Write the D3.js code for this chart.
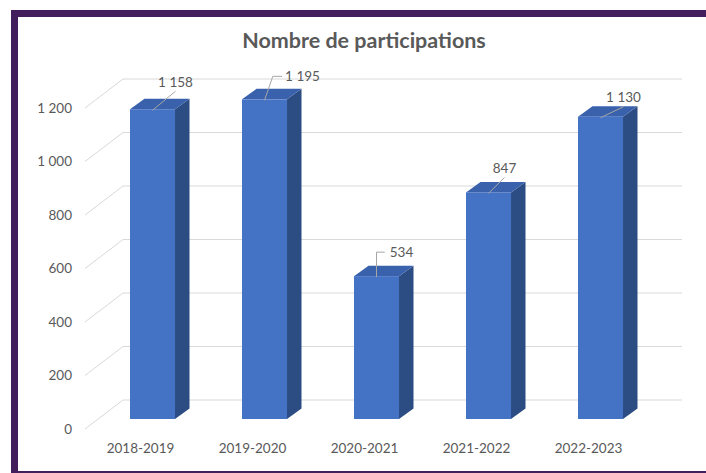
<!DOCTYPE html>
<html><head><meta charset="utf-8">
<script src="https://cdn.jsdelivr.net/npm/d3@7/dist/d3.min.js"></script>
<style>html,body{margin:0;padding:0;background:#fff;}svg{display:block;}</style>
</head><body><svg id="c" width="706" height="473"></svg>
<script>
const categories = ["2018-2019","2019-2020","2020-2021","2021-2022","2022-2023"];
const values = [1158, 1195, 534, 847, 1130];
const yTicks = [0, 200, 400, 600, 800, 1000, 1200];
const title = "Nombre de participations";

// label nudges (layout, not data): offset of label centre from bar top anchor
const labelNudge = [[23,-28],[38,-24],[25,-25],[16,-25],[23,-20]];

const svg = d3.select("#c");
const font = "Lato, 'Open Sans', sans-serif";
const txt = "#595959";
const fr = d3.formatLocale({decimal:",", thousands:"\u00a0", grouping:[3], currency:["","€"]});
const fmt = fr.format(",d");

// frame
svg.append("rect").attr("x",14.5).attr("y",13.5).attr("width",700).attr("height",461)
  .attr("fill","#fff").attr("stroke","#421E5C").attr("stroke-width",7);

// geometry
const wallDX = 38, wallDY = -29;   // front plane -> back wall
const barDX = 14.5, barDY = -10.5; // bar depth
const frontBase = 429, barBase = 419, backBase = 400;
const h = d3.scaleLinear().domain([0,1200]).range([0,321]);
const x = d3.scaleBand().domain(categories).range([96.5,656.5]).paddingInner(0.598).paddingOuter(0.299);
const wallLeft = 85 + wallDX, wallRight = 682;

// title
svg.append("text").attr("x",364).attr("y",48).attr("text-anchor","middle")
  .attr("font-family",font).attr("font-weight","bold").attr("font-size",21.5).attr("fill",txt).text(title);

// gridlines
const g = svg.append("g");
yTicks.forEach(v=>{
  const yb = backBase - h(v), yf = frontBase - h(v);
  g.append("polyline").attr("points",`${85},${yf} ${wallLeft},${yb} ${wallRight},${yb}`)
    .attr("fill","none").attr("stroke","#d9d9d9").attr("stroke-width",1);
  g.append("text").attr("x",72).attr("y",yf).attr("dy","0.35em").attr("text-anchor","end")
    .attr("font-family",font).attr("font-size",13.5).attr("fill",txt).text(fmt(v));
});

// bars
const bars = svg.append("g");
categories.forEach((c,i)=>{
  const x0 = x(c), w = x.bandwidth();
  const yt = barBase - h(values[i]), yb = barBase;
  bars.append("polygon").attr("points",`${x0+w},${yt} ${x0+w+barDX},${yt+barDY} ${x0+w+barDX},${yb+barDY} ${x0+w},${yb}`)
    .attr("fill","#2C4C84");
  bars.append("polygon").attr("points",`${x0},${yt} ${x0+w},${yt} ${x0+w+barDX},${yt+barDY} ${x0+barDX},${yt+barDY}`)
    .attr("fill","#3A62AC");
  bars.append("rect").attr("x",x0).attr("y",yt).attr("width",w).attr("height",yb-yt).attr("fill","#4472C4");

  // category label
  svg.append("text").attr("x",x0+w/2-12).attr("y",448).attr("dy","0.35em").attr("text-anchor","middle")
    .attr("font-family",font).attr("font-size",13.5).attr("fill",txt).text(c);

  // data label + leader
  const ax = x0+w/2, ay = yt+1;
  const lx = ax+labelNudge[i][0], ly = ay+labelNudge[i][1];
  const t = svg.append("text").attr("x",lx).attr("y",ly).attr("dy","0.35em").attr("text-anchor","middle")
    .attr("font-family",font).attr("font-size",13.5).attr("fill",txt).text(fmt(values[i]));
  const bb = t.node().getBBox();
  let pts;
  if (bb.x > ax + 10) {
    pts = `${ax},${ay} ${ax+ (bb.x-ax)*0.5 - 2},${ly} ${bb.x-3},${ly}`;
    if (bb.x - ax < 18) pts = `${ax},${ay} ${ax},${ly} ${bb.x-5},${ly}`;
  } else {
    pts = `${ax},${ay} ${lx},${ly+9}`;
  }
  svg.append("polyline").attr("points",pts).attr("fill","none").attr("stroke","#a6a6a6").attr("stroke-width",1);
});
</script></body></html>
